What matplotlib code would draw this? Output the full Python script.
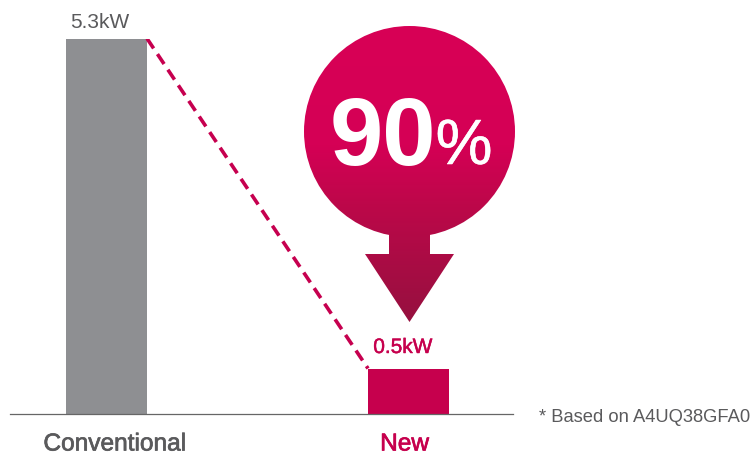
import numpy as np
import matplotlib
matplotlib.use('Agg')
import matplotlib.pyplot as plt
import matplotlib.patheffects as pe
from matplotlib.patches import Circle, Polygon
from matplotlib.colors import LinearSegmentedColormap

categories = ['Conventional', 'New']
# drawn heights, the New bar is taller in the picture than its 0.5kW label says
bar_heights = [5.3, 0.636]
bar_labels = ['5.3kW', '0.5kW']
saving_pct = '90'
note = '* Based on A4UQ38GFA0'

plt.rcParams['font.family'] = ['Liberation Sans', 'DejaVu Sans']

GREY = '#8e8f92'
RED = '#c6004d'
DASH = '#c6004f'
TXT = '#5a5a5c'


def medium(color, w=0.45):
    # no medium weight installed, thicken the regular one a bit
    return [pe.withStroke(linewidth=w, foreground=color)]


fig = plt.figure(figsize=(7.5, 4.56), dpi=100)
# whole figure in pixels for the decoration, data axis placed on the baseline
bg = fig.add_axes([0, 0, 1, 1])
bg.axis('off')

# baseline y=414.5, top of 5.3 bar y=39.5
ax = fig.add_axes([10 / 750, (456 - 414.5) / 456, 503 / 750, 375 / 456])
ax.set_xlim(10, 513)
ax.set_ylim(0, 5.3)
ax.patch.set_alpha(0)
for s in ['top', 'left', 'right']:
    ax.spines[s].set_visible(False)
ax.spines['bottom'].set_color('#666666')
ax.spines['bottom'].set_linewidth(0.9)
ax.set_yticks([])
ax.set_xticks([])

xpos = [106.5, 408.5]
ax.bar(xpos, bar_heights, width=81, color=[GREY, RED], zorder=2)

# dashed connector from top of old bar to top of new bar
ax.plot([xpos[0] + 40.5, xpos[1] - 40.5], bar_heights, color=DASH, lw=2.6,
        dashes=(3.3, 1.9), zorder=3, solid_capstyle='butt')

bg.set_xlim(0, 750)
bg.set_ylim(456, 0)
bg.text(99.5, 28.5, bar_labels[0], fontsize=15, color=TXT, ha='center', va='baseline')
bg.text(403, 354, bar_labels[1], fontsize=15, color=RED, ha='center', va='baseline',
        path_effects=medium(RED, 0.35))
bg.text(114.5, 451.5, categories[0], fontsize=17.6, color=TXT, ha='center', va='baseline',
        path_effects=medium(TXT, 0.5))
bg.text(404.5, 451.5, categories[1], fontsize=17.6, color=RED, ha='center', va='baseline',
        path_effects=medium(RED, 0.5))

# gradient circle + arrow
cmap = LinearSegmentedColormap.from_list(
    'g', [(0, '#d80056'), (0.4, '#d50055'), (0.62, '#bb0849'), (1, '#96103f')])
grad = np.linspace(0, 1, 256).reshape(-1, 1)
circ = Circle((409.5, 132.5), 105.5, transform=bg.transData, fc='none', ec='none')
arrow = Polygon([(389, 230), (430, 230), (430, 255), (454, 255), (409.5, 323),
                 (365, 255), (389, 255)], closed=True, transform=bg.transData,
                fc='none', ec='none')
bg.add_patch(circ)
bg.add_patch(arrow)
for clip in [circ, arrow]:
    im = bg.imshow(grad, extent=[290, 530, 323, 27], cmap=cmap, aspect='auto', zorder=1)
    im.set_clip_path(clip)
bg.set_xlim(0, 750)
bg.set_ylim(456, 0)

bg.text(382.5, 165, saving_pct, color='white', fontsize=69, fontweight='bold',
        ha='center', va='baseline', zorder=4)
bg.text(464, 165, '%', color='white', fontsize=46, ha='center', va='baseline', zorder=4,
        path_effects=medium('white', 0.4))
bg.text(539, 422, note, color=TXT, fontsize=13.2, ha='left', va='baseline')

fig.savefig('out.png', dpi=100)
